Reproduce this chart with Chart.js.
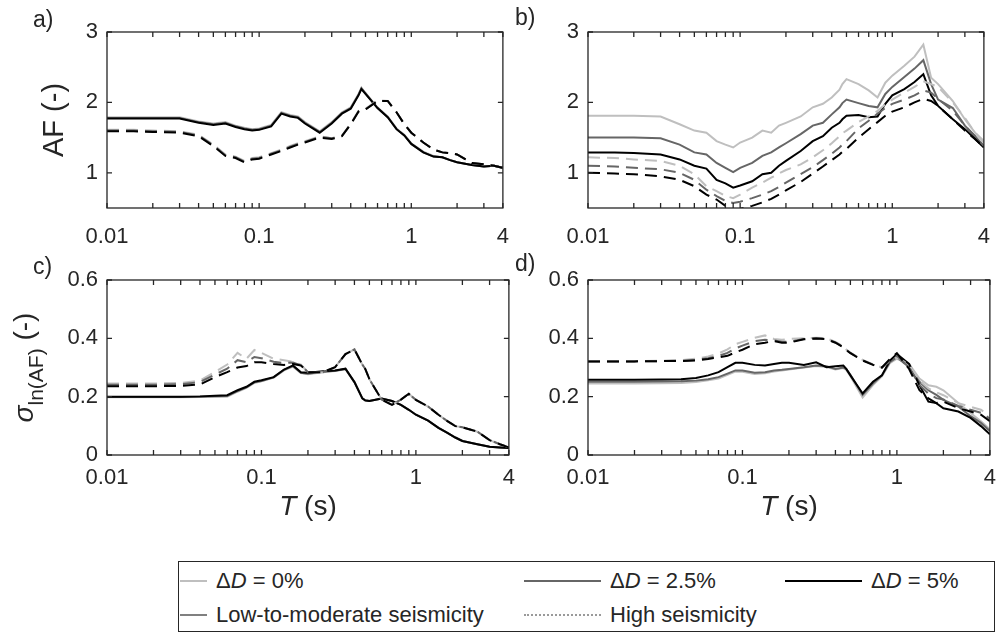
<!DOCTYPE html>
<html>
<head>
<meta charset="utf-8">
<script src="https://cdn.jsdelivr.net/npm/chart.js@4.4.1/dist/chart.umd.min.js"></script>
<style>
  html, body { margin: 0; padding: 0; background: #fff; }
  body { width: 1004px; height: 634px; position: relative; overflow: hidden;
         font-family: 'Liberation Sans', Arial, sans-serif; color: #262626; }
  canvas { position: absolute; }
  #legend { position: absolute; left: 178px; top: 561px; width: 817px; height: 71px;
            border: 1px solid #262626; box-sizing: border-box; background: #fff; }
  .lg-text { position: absolute; font-size: 22px; line-height: 22px; white-space: nowrap; transform: translateY(-50%); }
  .lg-line { position: absolute; height: 0; }
</style>
</head>
<body>
<canvas id="chartA" width="525" height="260" style="left:0;top:0"></canvas>
<canvas id="chartB" width="525" height="260" style="left:481px;top:0"></canvas>
<canvas id="chartC" width="525" height="290" style="left:0;top:245px"></canvas>
<canvas id="chartD" width="525" height="290" style="left:481px;top:245px"></canvas>

<div id="legend">
  <div class="lg-line" style="left:1px;top:18px;width:27px;border-top:2px solid #bfbfbf"></div>
  <div class="lg-text" style="left:37px;top:19px">&Delta;<i>D</i> = 0%</div>
  <div class="lg-line" style="left:345px;top:18px;width:77px;border-top:2px solid #666"></div>
  <div class="lg-text" style="left:431px;top:19px">&Delta;<i>D</i> = 2.5%</div>
  <div class="lg-line" style="left:606px;top:18px;width:77px;border-top:2px solid #000"></div>
  <div class="lg-text" style="left:692px;top:19px">&Delta;<i>D</i> = 5%</div>
  <div class="lg-line" style="left:1px;top:52px;width:27px;border-top:2px solid #808080"></div>
  <div class="lg-text" style="left:37px;top:53px">Low-to-moderate seismicity</div>
  <div class="lg-line" style="left:345px;top:52px;width:77px;border-top:2px dotted #9a9a9a"></div>
  <div class="lg-text" style="left:431px;top:53px">High seismicity</div>
</div>

<script>
'use strict';

// ---- données ----
const PERIODS = [0.01, 0.015, 0.02, 0.03, 0.04, 0.05, 0.06, 0.07, 0.08, 0.09,
                 0.1, 0.12, 0.14, 0.16, 0.18, 0.2, 0.25, 0.3, 0.35, 0.4,
                 0.45, 0.47, 0.5, 0.6, 0.7, 0.8, 0.9, 1, 1.2, 1.4,
                 1.6, 1.8, 2, 2.5, 3, 3.5, 4];

const X_TICKS = [0.01, 0.1, 1, 4];
const X_MINOR = [0.02, 0.03, 0.04, 0.05, 0.06, 0.07, 0.08, 0.09,
                 0.2, 0.3, 0.4, 0.5, 0.6, 0.7, 0.8, 0.9, 2, 3];
const AF_TICKS = [1, 2, 3];
const SIGMA_TICKS = [0, 0.2, 0.4, 0.6];

// a) AF
const aLow0  = [1.79,1.79,1.79,1.79,1.73,1.70,1.72,1.67,1.64,1.62,1.63,1.68,1.86,1.82,1.80,1.72,1.59,1.72,1.86,1.93,2.12,2.21,2.13,1.93,1.80,1.63,1.54,1.42,1.30,1.24,1.22,1.18,1.15,1.11,1.09,1.10,1.07];
const aLow25 = [1.78,1.78,1.78,1.78,1.72,1.69,1.71,1.66,1.63,1.61,1.62,1.67,1.85,1.81,1.79,1.71,1.58,1.71,1.85,1.92,2.11,2.20,2.13,1.92,1.79,1.62,1.53,1.41,1.29,1.23,1.22,1.18,1.15,1.11,1.09,1.10,1.07];
const aLow5  = [1.77,1.77,1.77,1.77,1.71,1.68,1.70,1.65,1.62,1.60,1.61,1.66,1.84,1.80,1.78,1.70,1.57,1.70,1.84,1.91,2.10,2.19,2.12,1.92,1.79,1.62,1.53,1.41,1.29,1.23,1.22,1.18,1.15,1.11,1.09,1.10,1.07];
const aHigh0  = [1.61,1.61,1.60,1.59,1.54,1.40,1.26,1.23,1.17,1.21,1.22,1.28,1.33,1.38,1.42,1.45,1.52,1.49,1.53,1.70,1.88,1.90,1.91,2.03,2.02,1.86,1.69,1.57,1.43,1.33,1.29,1.28,1.26,1.14,1.12,1.10,1.07];
const aHigh25 = [1.60,1.60,1.59,1.58,1.53,1.39,1.25,1.22,1.16,1.20,1.21,1.27,1.32,1.37,1.41,1.44,1.51,1.49,1.52,1.69,1.87,1.89,1.90,2.02,2.02,1.86,1.69,1.57,1.43,1.33,1.29,1.28,1.26,1.14,1.12,1.10,1.07];
const aHigh5  = [1.59,1.59,1.58,1.57,1.52,1.38,1.24,1.21,1.15,1.19,1.20,1.26,1.31,1.36,1.40,1.43,1.50,1.48,1.52,1.69,1.87,1.89,1.90,2.02,2.02,1.86,1.69,1.57,1.43,1.33,1.29,1.28,1.26,1.14,1.12,1.10,1.07];

// b) AF
const bLow0  = [1.81,1.81,1.81,1.80,1.69,1.60,1.57,1.45,1.40,1.36,1.43,1.50,1.60,1.57,1.67,1.71,1.80,1.93,1.98,2.07,2.18,2.26,2.33,2.26,2.17,2.07,2.28,2.38,2.52,2.65,2.82,2.35,2.26,2.02,1.76,1.57,1.43];
const bLow25 = [1.50,1.50,1.50,1.49,1.40,1.29,1.26,1.14,1.07,1.01,1.07,1.14,1.24,1.29,1.36,1.42,1.55,1.67,1.71,1.83,1.93,1.99,2.04,1.99,1.95,1.93,2.12,2.22,2.36,2.48,2.60,2.26,2.04,1.92,1.67,1.52,1.38];
const bLow5  = [1.29,1.29,1.28,1.26,1.19,1.10,1.06,0.90,0.85,0.79,0.82,0.88,0.98,1.00,1.10,1.17,1.31,1.45,1.52,1.64,1.71,1.76,1.81,1.82,1.79,1.80,1.98,2.10,2.19,2.29,2.40,2.10,1.95,1.76,1.62,1.48,1.36];
const bHigh0  = [1.22,1.21,1.19,1.17,1.10,0.98,0.81,0.74,0.67,0.64,0.69,0.79,0.86,0.93,0.99,1.04,1.12,1.22,1.32,1.42,1.52,1.56,1.60,1.72,1.80,1.88,1.97,2.04,2.14,2.22,2.30,2.26,2.22,2.00,1.78,1.57,1.45];
const bHigh25 = [1.10,1.09,1.07,1.05,1.00,0.90,0.76,0.67,0.60,0.57,0.59,0.64,0.69,0.74,0.80,0.86,0.98,1.08,1.18,1.27,1.36,1.40,1.45,1.63,1.74,1.84,1.92,1.98,2.04,2.10,2.17,2.14,2.05,1.88,1.67,1.52,1.38];
const bHigh5  = [1.00,0.99,0.98,0.95,0.90,0.81,0.69,0.62,0.53,0.48,0.49,0.53,0.58,0.63,0.69,0.75,0.87,0.99,1.09,1.18,1.26,1.30,1.34,1.50,1.62,1.72,1.81,1.87,1.93,2.00,2.05,2.02,1.95,1.76,1.60,1.48,1.36];

// c) sigma ln(AF)
const cLow0  = [0.198,0.198,0.198,0.198,0.199,0.200,0.200,0.217,0.230,0.247,0.253,0.265,0.290,0.303,0.281,0.277,0.284,0.288,0.294,0.250,0.194,0.188,0.185,0.194,0.185,0.172,0.155,0.138,0.118,0.093,0.076,0.060,0.048,0.037,0.028,0.026,0.024];
const cLow25 = [0.199,0.199,0.199,0.199,0.200,0.201,0.202,0.219,0.232,0.249,0.254,0.266,0.292,0.305,0.282,0.279,0.285,0.289,0.295,0.250,0.194,0.188,0.185,0.194,0.185,0.172,0.155,0.138,0.118,0.093,0.076,0.060,0.048,0.037,0.028,0.026,0.024];
const cLow5  = [0.200,0.200,0.200,0.200,0.201,0.203,0.205,0.222,0.234,0.251,0.256,0.267,0.293,0.307,0.284,0.282,0.287,0.290,0.296,0.250,0.194,0.187,0.185,0.194,0.185,0.172,0.155,0.138,0.118,0.093,0.076,0.060,0.048,0.037,0.028,0.026,0.024];
const cHigh0  = [0.245,0.245,0.245,0.247,0.255,0.285,0.310,0.350,0.330,0.360,0.350,0.330,0.325,0.320,0.310,0.284,0.284,0.301,0.346,0.362,0.310,0.295,0.260,0.190,0.172,0.190,0.210,0.189,0.166,0.138,0.116,0.099,0.095,0.080,0.051,0.037,0.026];
const cHigh25 = [0.241,0.241,0.241,0.243,0.250,0.276,0.296,0.325,0.318,0.336,0.332,0.320,0.315,0.317,0.308,0.284,0.284,0.301,0.346,0.362,0.310,0.295,0.260,0.190,0.172,0.190,0.210,0.189,0.166,0.138,0.116,0.099,0.095,0.080,0.051,0.037,0.026];
const cHigh5  = [0.236,0.236,0.236,0.237,0.242,0.267,0.284,0.300,0.305,0.318,0.318,0.312,0.309,0.312,0.307,0.284,0.284,0.301,0.346,0.362,0.310,0.295,0.260,0.190,0.172,0.190,0.210,0.189,0.166,0.138,0.116,0.099,0.095,0.080,0.051,0.037,0.026];

// d) sigma ln(AF)
const dLow0  = [0.245,0.245,0.245,0.246,0.247,0.250,0.256,0.262,0.275,0.286,0.285,0.278,0.280,0.286,0.290,0.293,0.300,0.305,0.302,0.293,0.298,0.292,0.270,0.197,0.240,0.270,0.315,0.330,0.312,0.262,0.239,0.234,0.222,0.178,0.144,0.116,0.088];
const dLow25 = [0.251,0.251,0.251,0.252,0.253,0.255,0.260,0.267,0.279,0.290,0.290,0.282,0.284,0.290,0.292,0.295,0.301,0.307,0.304,0.295,0.300,0.295,0.275,0.206,0.245,0.273,0.318,0.335,0.301,0.251,0.222,0.206,0.189,0.166,0.133,0.110,0.082];
const dLow5  = [0.258,0.258,0.258,0.259,0.260,0.264,0.273,0.284,0.301,0.316,0.316,0.309,0.307,0.312,0.316,0.316,0.309,0.318,0.301,0.304,0.307,0.295,0.273,0.211,0.251,0.273,0.324,0.346,0.312,0.239,0.183,0.178,0.160,0.149,0.127,0.099,0.071];
const dHigh0  = [0.322,0.322,0.322,0.323,0.325,0.330,0.338,0.348,0.362,0.380,0.388,0.402,0.410,0.398,0.395,0.398,0.400,0.402,0.400,0.388,0.372,0.362,0.351,0.326,0.311,0.300,0.322,0.335,0.310,0.255,0.228,0.215,0.205,0.178,0.165,0.155,0.135];
const dHigh25 = [0.321,0.321,0.321,0.322,0.323,0.326,0.332,0.340,0.350,0.365,0.375,0.390,0.395,0.393,0.388,0.388,0.398,0.400,0.398,0.386,0.370,0.361,0.350,0.325,0.310,0.300,0.325,0.340,0.300,0.240,0.210,0.195,0.190,0.168,0.155,0.145,0.125];
const dHigh5  = [0.321,0.321,0.321,0.322,0.322,0.324,0.329,0.335,0.340,0.352,0.361,0.380,0.385,0.391,0.385,0.385,0.397,0.399,0.397,0.385,0.369,0.360,0.349,0.324,0.309,0.300,0.329,0.349,0.295,0.222,0.194,0.178,0.183,0.161,0.149,0.138,0.116];

// ---- styles ----
const FONT = "'Liberation Sans', Arial, Helvetica, sans-serif";
const INK = '#262626';
const C_LIGHT = '#bfbfbf';
const C_MID = '#666666';
const C_DARK = '#000000';

Chart.defaults.font.family = FONT;
Chart.defaults.font.size = 22;
Chart.defaults.color = INK;

function series(values, color, dashed, order) {
    return {
        data: values.map((v, i) => ({ x: PERIODS[i], y: v })),
        borderColor: color,
        borderWidth: 2,
        borderDash: dashed ? [12, 7] : [],
        pointRadius: 0,
        fill: false,
        tension: 0,
        clip: 0,
        order: order
    };
}

// cadre, graduations intérieures et textes (style MATLAB)
const framePlugin = {
    id: 'frame',
    afterDatasetsDraw(chart, args, opts) {
        const { ctx, chartArea: a, scales: { x, y } } = chart;
        ctx.save();
        ctx.strokeStyle = INK;
        ctx.lineWidth = 1.3;
        ctx.beginPath();
        X_MINOR.concat(X_TICKS).forEach(t => {
            const px = x.getPixelForValue(t);
            ctx.moveTo(px, a.bottom); ctx.lineTo(px, a.bottom - 5);
            ctx.moveTo(px, a.top); ctx.lineTo(px, a.top + 5);
        });
        opts.yTicks.forEach(v => {
            const py = y.getPixelForValue(v);
            ctx.moveTo(a.left, py); ctx.lineTo(a.left + 5, py);
            ctx.moveTo(a.right, py); ctx.lineTo(a.right - 5, py);
        });
        ctx.stroke();
        ctx.strokeRect(a.left, a.top, a.right - a.left, a.bottom - a.top);

        ctx.fillStyle = INK;
        ctx.textBaseline = 'middle';
        ctx.textAlign = 'left';
        ctx.font = '23px ' + FONT;
        ctx.fillText(opts.letter, opts.letterX, opts.letterY);

        const cy = (a.top + a.bottom) / 2;
        if (opts.yTitle === 'AF') {
            ctx.save();
            ctx.translate(63, cy);
            ctx.rotate(-Math.PI / 2);
            ctx.textAlign = 'center';
            ctx.textBaseline = 'alphabetic';
            ctx.font = '29px ' + FONT;
            ctx.fillText('AF (-)', 0, 0);
            ctx.restore();
        } else if (opts.yTitle === 'sigma') {
            drawRotatedParts(ctx, 33, cy, [
                { t: 'σ', f: 'italic 28px ' + FONT, dy: 0 },
                { t: 'ln(AF)', f: '21px ' + FONT, dy: 10 },
                { t: ' (-)', f: '28px ' + FONT, dy: 0 }
            ]);
        }
        if (opts.xTitle) {
            const parts = [
                { t: 'T', f: 'italic 28px ' + FONT },
                { t: ' (s)', f: '28px ' + FONT }
            ];
            let w = 0;
            parts.forEach(p => { ctx.font = p.f; p.w = ctx.measureText(p.t).width; w += p.w; });
            let px = (a.left + a.right) / 2 - w / 2;
            ctx.textBaseline = 'alphabetic';
            parts.forEach(p => { ctx.font = p.f; ctx.fillText(p.t, px, opts.xTitleY); px += p.w; });
        }
        ctx.restore();
    }
};

function drawRotatedParts(ctx, bx, cy, parts) {
    ctx.save();
    ctx.translate(bx, cy);
    ctx.rotate(-Math.PI / 2);
    ctx.textAlign = 'left';
    ctx.textBaseline = 'alphabetic';
    let total = 0;
    parts.forEach(p => { ctx.font = p.f; p.w = ctx.measureText(p.t).width; total += p.w; });
    let x0 = -total / 2;
    parts.forEach(p => { ctx.font = p.f; ctx.fillText(p.t, x0, p.dy); x0 += p.w; });
    ctx.restore();
}

function makePanel(id, sets, yMin, yMax, yTicks, deco) {
    const canvas = document.getElementById(id);
    const chartBottom = deco.bottom;
    return new Chart(canvas, {
        type: 'line',
        data: {
            datasets: [
                series(sets[0], C_LIGHT, false, 6),
                series(sets[1], C_MID, false, 5),
                series(sets[2], C_DARK, false, 4),
                series(sets[3], C_LIGHT, true, 3),
                series(sets[4], C_MID, true, 2),
                series(sets[5], C_DARK, true, 1)
            ]
        },
        options: {
            responsive: false,
            animation: false,
            events: [],
            layout: { padding: { top: deco.top, right: canvas.width - 514, left: 0, bottom: 0 } },
            plugins: {
                legend: { display: false },
                tooltip: { enabled: false },
                frame: deco
            },
            scales: {
                x: {
                    type: 'logarithmic',
                    min: 0.01,
                    max: 4,
                    grid: { display: false, drawTicks: false, tickLength: 0 },
                    border: { display: false },
                    afterBuildTicks: s => { s.ticks = X_TICKS.map(v => ({ value: v })); },
                    afterFit: s => { s.height = canvas.height - chartBottom; },
                    ticks: { padding: deco.xPad, maxRotation: 0, autoSkip: false, callback: v => String(v) }
                },
                y: {
                    min: yMin,
                    max: yMax,
                    grid: { display: false, drawTicks: false, tickLength: 0 },
                    border: { display: false },
                    afterBuildTicks: s => { s.ticks = yTicks.map(v => ({ value: v })); },
                    afterFit: s => { s.width = 107; },
                    ticks: { padding: 9, callback: v => String(v) }
                }
            }
        },
        plugins: [framePlugin]
    });
}

makePanel('chartA', [aLow0, aLow25, aLow5, aHigh0, aHigh25, aHigh5], 0.5, 3, AF_TICKS,
    { top: 32, bottom: 208, xPad: 16, yTicks: AF_TICKS, letter: 'a)', letterX: 33, letterY: 21, yTitle: 'AF' });
makePanel('chartB', [bLow0, bLow25, bLow5, bHigh0, bHigh25, bHigh5], 0.5, 3, AF_TICKS,
    { top: 32, bottom: 208, xPad: 16, yTicks: AF_TICKS, letter: 'b)', letterX: 34, letterY: 19 });
makePanel('chartC', [cLow0, cLow25, cLow5, cHigh0, cHigh25, cHigh5], 0, 0.6, SIGMA_TICKS,
    { top: 35, bottom: 210, xPad: 10, yTicks: SIGMA_TICKS, letter: 'c)', letterX: 33, letterY: 23, yTitle: 'sigma', xTitle: true, xTitleY: 270 });
makePanel('chartD', [dLow0, dLow25, dLow5, dHigh0, dHigh25, dHigh5], 0, 0.6, SIGMA_TICKS,
    { top: 35, bottom: 210, xPad: 10, yTicks: SIGMA_TICKS, letter: 'd)', letterX: 34, letterY: 20, xTitle: true, xTitleY: 270 });
</script>
</body>
</html>
